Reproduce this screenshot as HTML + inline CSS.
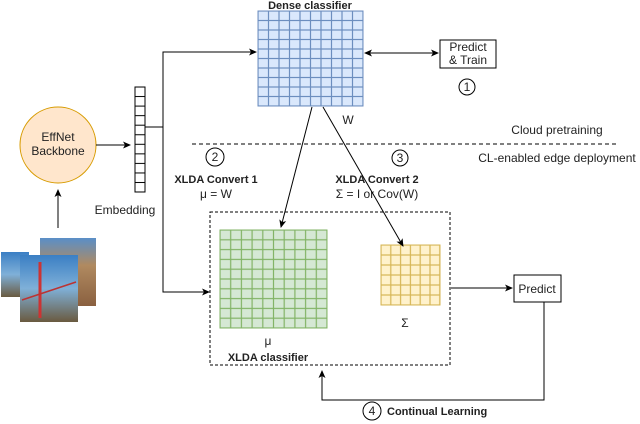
<!DOCTYPE html>
<html><head><style>body{margin:0;background:#fff}svg{display:block}text{font-family:"Liberation Sans",sans-serif;font-size:12px;fill:#222}.b{font-weight:bold;font-size:11px}</style></head><body>
<svg width="640" height="424" viewBox="0 0 640 424" xmlns="http://www.w3.org/2000/svg">
<defs>
<marker id="a" markerWidth="8" markerHeight="8" refX="7" refY="4" orient="auto-start-reverse" markerUnits="userSpaceOnUse"><path d="M0,0.5 L8,4 L0,7.5 L2,4 Z" fill="#000"/></marker>
<pattern id="gb" width="10.5" height="9.5" patternUnits="userSpaceOnUse" x="258" y="11"><rect width="10.5" height="9.5" fill="#dae8fc" stroke="#6c8ebf" stroke-width="1.2"/></pattern>
<pattern id="gg" width="10.7" height="9.8" patternUnits="userSpaceOnUse" x="220" y="230"><rect width="10.7" height="9.8" fill="#d5e8d4" stroke="#82b366" stroke-width="1.2"/></pattern>
<pattern id="gy" width="9.8" height="10" patternUnits="userSpaceOnUse" x="381" y="245"><rect width="9.8" height="10" fill="#fff2cc" stroke="#d6b656" stroke-width="1.2"/></pattern>
<pattern id="ge" width="10" height="9.55" patternUnits="userSpaceOnUse" x="135" y="87"><rect width="10" height="9.55" fill="#fff" stroke="#000" stroke-width="1"/></pattern>
<linearGradient id="sky" x1="0" y1="0" x2="0" y2="1"><stop offset="0" stop-color="#3b7fc4"/><stop offset="0.5" stop-color="#7fb0d8"/><stop offset="1" stop-color="#6a5a40"/></linearGradient>
<linearGradient id="sph" x1="0" y1="0" x2="0" y2="1"><stop offset="0" stop-color="#5a8fc8"/><stop offset="0.4" stop-color="#b08a60"/><stop offset="1" stop-color="#8a6040"/></linearGradient>
</defs>
<text x="310" y="9" text-anchor="middle" class="b">Dense classifier</text>
<rect x="258" y="11" width="105" height="95" fill="url(#gb)" stroke="#6c8ebf"/>
<text x="348" y="124" text-anchor="middle">W</text>
<line x1="365" y1="53" x2="438" y2="53" stroke="#000" marker-start="url(#a)" marker-end="url(#a)"/>
<rect x="440" y="40" width="56" height="28" fill="#fff" stroke="#000"/>
<text x="468" y="51" text-anchor="middle">Predict</text><text x="468" y="64" text-anchor="middle">&amp; Train</text>
<circle cx="467" cy="87" r="8" fill="none" stroke="#000"/><text x="467" y="91" text-anchor="middle">1</text>
<circle cx="58" cy="145" r="38" fill="#ffe6cc" stroke="#d79b00"/>
<text x="58" y="141" text-anchor="middle">EffNet</text><text x="58" y="155" text-anchor="middle">Backbone</text>
<line x1="96" y1="145" x2="130" y2="145" stroke="#000" marker-end="url(#a)"/>
<rect x="135" y="87" width="10" height="105" fill="url(#ge)" stroke="#000"/>
<text x="125" y="214" text-anchor="middle">Embedding</text>
<polyline points="145,127 163,127" fill="none" stroke="#000"/>
<polyline points="163,292 163,52 256,52" fill="none" stroke="#000" marker-end="url(#a)"/>
<polyline points="163,200 163,292 209,292" fill="none" stroke="#000" marker-end="url(#a)"/>
<line x1="58" y1="228" x2="58" y2="190" stroke="#000" marker-end="url(#a)"/>
<rect x="40" y="238" width="56" height="68" fill="url(#sph)"/>
<rect x="1" y="252" width="28" height="45" fill="url(#sky)"/>
<rect x="20" y="255" width="58" height="67" fill="url(#sky)"/>
<line x1="40" y1="262" x2="40" y2="318" stroke="#c33" stroke-width="3"/>
<line x1="22" y1="300" x2="76" y2="282" stroke="#b33" stroke-width="1.5"/>
<line x1="192" y1="144" x2="617" y2="144" stroke="#000" stroke-dasharray="4,3"/>
<text x="557" y="134" text-anchor="middle">Cloud pretraining</text>
<text x="557" y="162" text-anchor="middle">CL-enabled edge deployment</text>
<circle cx="215" cy="157" r="9" fill="none" stroke="#000"/><text x="215" y="161" text-anchor="middle">2</text>
<text x="216" y="183" text-anchor="middle" class="b">XLDA Convert 1</text>
<text x="216" y="198" text-anchor="middle">μ = W</text>
<circle cx="400" cy="158" r="8" fill="none" stroke="#000"/><text x="400" y="162" text-anchor="middle">3</text>
<text x="377" y="183" text-anchor="middle" class="b">XLDA Convert 2</text>
<text x="377" y="198" text-anchor="middle">Σ = I or Cov(W)</text>
<rect x="210" y="212" width="240" height="153" fill="none" stroke="#000" stroke-dasharray="3,2"/>
<rect x="220" y="230" width="107" height="98" fill="url(#gg)" stroke="#82b366"/>
<rect x="381" y="245" width="59" height="60" fill="url(#gy)" stroke="#d6b656"/>
<line x1="312" y1="107" x2="281" y2="227" stroke="#000" marker-end="url(#a)"/>
<line x1="323" y1="107" x2="403" y2="246" stroke="#000" marker-end="url(#a)"/>
<text x="268" y="345" text-anchor="middle">μ</text>
<text x="405" y="327" text-anchor="middle">Σ</text>
<text x="268" y="361" text-anchor="middle" class="b">XLDA classifier</text>
<line x1="451" y1="288" x2="512" y2="288" stroke="#000" marker-end="url(#a)"/>
<rect x="514" y="275" width="47" height="27" fill="#fff" stroke="#000"/>
<text x="537" y="293" text-anchor="middle">Predict</text>
<polyline points="544,302 544,400 322,400 322,371" fill="none" stroke="#000" marker-end="url(#a)"/>
<circle cx="372" cy="411" r="9" fill="none" stroke="#000"/><text x="372" y="415" text-anchor="middle">4</text>
<text x="387" y="415" class="b">Continual Learning</text>
</svg>
</body></html>
